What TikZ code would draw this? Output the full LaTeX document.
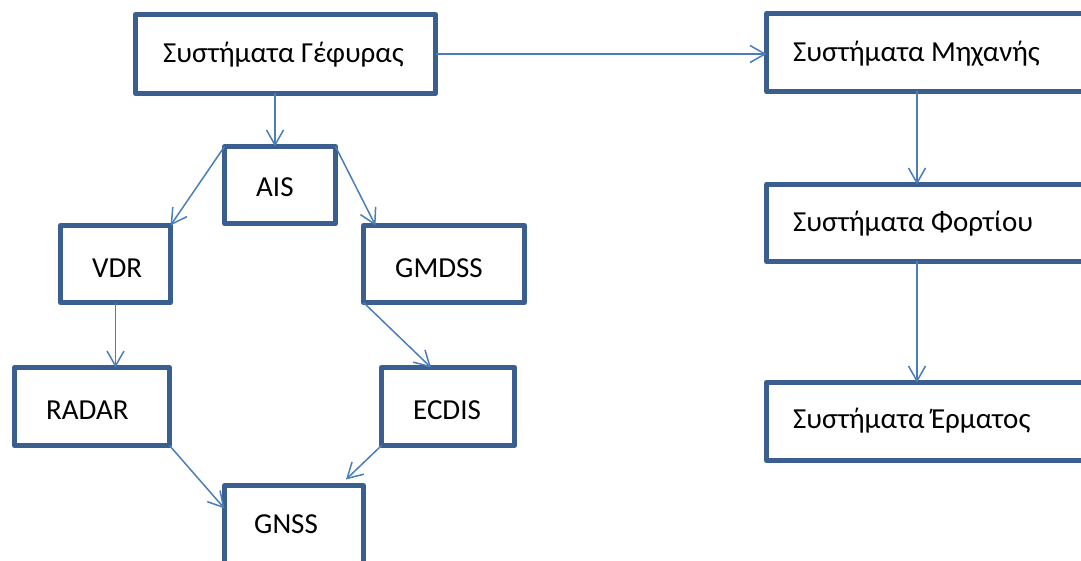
\documentclass[tikz,border=0pt]{standalone}
\usepackage{fontspec}
\setmainfont{Carlito}
\usetikzlibrary{arrows.meta}
\definecolor{boxline}{HTML}{3A5E8E}
\definecolor{linkline}{HTML}{4A7EBB}
\tikzset{
  sysbox/.style={draw=boxline, line width=5pt, line join=round, fill=none,
    inner sep=0pt, outer sep=0pt},
  label text/.style={inner sep=0pt, anchor=base west, font=\fontsize{29}{34}\selectfont, text=black},
  link/.style={draw=linkline, line width=1.5pt, -{Straight Barb[length=15pt,width=17pt,line width=1.5pt]}},
}
\begin{document}
\begin{tikzpicture}[x=1pt,y=-1pt]
  \useasboundingbox (0,0) rectangle (1081,561);
  \clip (0,0) rectangle (1081,561);

  % system boxes
  \node[sysbox, minimum width=300pt, minimum height=79pt] (bridge) at (285.5,54) {};
  \node[sysbox, minimum width=111pt, minimum height=77pt] (ais) at (280,185) {};
  \node[sysbox, minimum width=110pt, minimum height=77pt] (vdr) at (115.5,264) {};
  \node[sysbox, minimum width=161pt, minimum height=77pt] (gmdss) at (444,264) {};
  \node[sysbox, minimum width=155pt, minimum height=78pt] (radar) at (92,406.5) {};
  \node[sysbox, minimum width=133pt, minimum height=78pt] (ecdis) at (448,406.5) {};
  \node[sysbox, minimum width=139pt, minimum height=78pt] (gnss) at (294,524.5) {};
  \node[sysbox, minimum width=331pt, minimum height=78pt] (engine) at (932,52.5) {};
  \node[sysbox, minimum width=331pt, minimum height=77pt] (cargo) at (932,223) {};
  \node[sysbox, minimum width=331pt, minimum height=78pt] (ballast) at (932,421.5) {};

  % labels
  \node[label text] (bridge-t) at (163,63) {Συστήματα Γέφυρας};
  \node[label text] (engine-t) at (793,62) {Συστήματα Μηχανής};
  \node[label text] (cargo-t) at (793,232) {Συστήματα Φορτίου};
  \node[label text] (ballast-t) at (793,428) {Συστήματα Έρματος};
  \node[label text] (ais-t) at (256,197) {AIS};
  \node[label text] (vdr-t) at (92,277) {VDR};
  \node[label text] (gmdss-t) at (395,277) {GMDSS};
  \node[label text] (radar-t) at (46,419) {RADAR};
  \node[label text] (ecdis-t) at (413,419) {ECDIS};
  \node[label text] (gnss-t) at (254,533) {GNSS};

  % right-hand column runs down at this x
  \coordinate (rcol) at (917,0);

  % connectors
  \draw[link] (bridge.east) -- (engine.west |- bridge.east);
  \draw[link] ([xshift=-5pt]ais.north |- bridge.south) -- ([xshift=-5pt]ais.north);
  \draw[link] (ais.north west) -- (vdr.north east);
  \draw[link] (ais.north east) -- ([xshift=12pt]gmdss.north west);
  \draw[link] (vdr.south) -- (vdr.south |- radar.north);
  \draw[link] (gmdss.south west) -- ([xshift=-17pt]ecdis.north);
  \draw[link] (radar.south east) -- ([yshift=16pt]gnss.west);
  \draw[link] (ecdis.south west) -- ([xshift=52pt,yshift=6pt]gnss.north);
  \draw[link] (engine.south -| rcol) -- (cargo.north -| rcol);
  \draw[link] (cargo.south -| rcol) -- (ballast.north -| rcol);
\end{tikzpicture}
\end{document}
